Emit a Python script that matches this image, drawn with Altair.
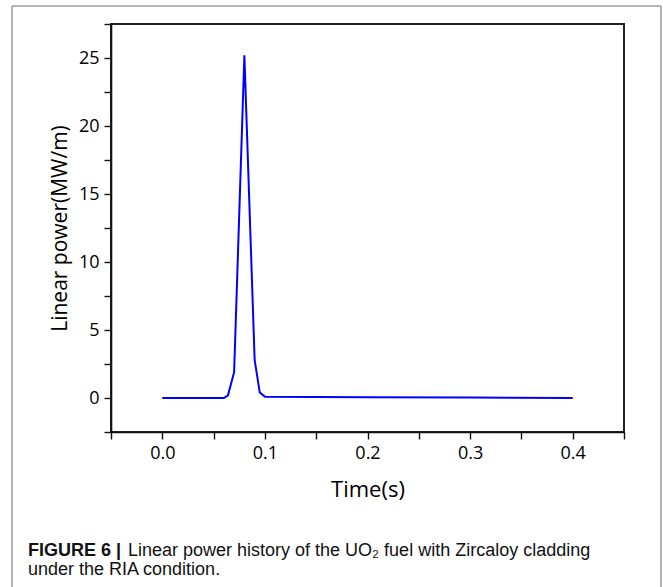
import altair as alt
import pandas as pd

# Data
times = [0.0, 0.06, 0.064, 0.07, 0.08, 0.09, 0.095, 0.1, 0.2, 0.3, 0.4]
power = [0.0, 0.0, 0.2, 1.9, 25.2, 2.8, 0.4, 0.1, 0.06, 0.03, 0.0]

x_ticks = [-0.05, 0.0, 0.05, 0.1, 0.15, 0.2, 0.25, 0.3, 0.35, 0.4, 0.45]
y_ticks = [-2.5, 0, 2.5, 5, 7.5, 10, 12.5, 15, 17.5, 20, 22.5, 25, 27.5]

caption_bold = "FIGURE 6 |"
caption_line1 = "Linear power history of the UO\u2082 fuel with Zircaloy cladding"
caption_line2 = "under the RIA condition."

df = pd.DataFrame({"t": times, "p": power})
one = pd.DataFrame({"a": [0]})

AX_FONT = "Open Sans"
CAP_FONT = "Liberation Sans, Arial"

line = alt.Chart(df).mark_line(color="#0000ff", strokeWidth=2).encode(
    x=alt.X(
        "t:Q",
        scale=alt.Scale(domain=[-0.05, 0.45], nice=False, zero=False),
        axis=alt.Axis(
            values=x_ticks,
            labelExpr="(datum.value >= 0 && datum.value <= 0.4 && abs(round(datum.value*10) - datum.value*10) < 1e-6) ? format(datum.value, '.1f') : ''",
            title="Time(s)",
        ),
    ),
    y=alt.Y(
        "p:Q",
        scale=alt.Scale(domain=[-2.5, 27.5], nice=False, zero=False),
        axis=alt.Axis(
            values=y_ticks,
            labelExpr="(datum.value >= 0 && datum.value <= 25 && abs(round(datum.value/5) - datum.value/5) < 1e-6) ? format(datum.value, 'd') : ''",
            title="Linear power(MW/m)",
        ),
    ),
)

border_color = "#9a9a9a"
left_border = alt.Chart(one).mark_rule(color=border_color, strokeWidth=1.5).encode(
    x=alt.value(-99), y=alt.value(-18), y2=alt.value(570)
)
top_border = alt.Chart(one).mark_rule(color=border_color, strokeWidth=1.5).encode(
    x=alt.value(-99), x2=alt.value(550), y=alt.value(-18)
)
right_border = alt.Chart(one).mark_rule(color=border_color, strokeWidth=1.5).encode(
    x=alt.value(550), y=alt.value(-18), y2=alt.value(570)
)

cap_bold = alt.Chart(one).mark_text(
    text=caption_bold, font=CAP_FONT, fontSize=18, fontWeight="bold",
    align="left", baseline="alphabetic", color="#111"
).encode(x=alt.value(-83), y=alt.value(532))
cap_l1 = alt.Chart(one).mark_text(
    text=caption_line1, font=CAP_FONT, fontSize=18,
    align="left", baseline="alphabetic", color="#111"
).encode(x=alt.value(17), y=alt.value(532))
cap_l2 = alt.Chart(one).mark_text(
    text=caption_line2, font=CAP_FONT, fontSize=18,
    align="left", baseline="alphabetic", color="#111"
).encode(x=alt.value(-83), y=alt.value(551))

chart = (
    alt.layer(line, left_border, top_border, right_border, cap_bold, cap_l1, cap_l2)
    .properties(
        width=513,
        height=408,
        autosize=alt.AutoSizeParams(type="none"),
        padding={"left": 111, "top": 24, "right": 39, "bottom": 155},
        background="white",
    )
    .configure_view(stroke="#222", strokeWidth=2)
    .configure_axis(
        grid=False,
        domainColor="#111",
        domainWidth=1.6,
        tickColor="#111",
        tickWidth=1.4,
        tickSize=7,
        labelFont=AX_FONT,
        labelFontSize=18,
        labelColor="#000",
        titleFont=AX_FONT,
        titleFontSize=21,
        titleFontWeight="normal",
        titleColor="#000",
    )
    .configure_axisX(labelPadding=5, titlePadding=17, titleFontSize=22)
    .configure_axisY(labelPadding=5, titlePadding=8)
)

chart.save("out.html", embed_options={"renderer": "svg", "actions": False})
